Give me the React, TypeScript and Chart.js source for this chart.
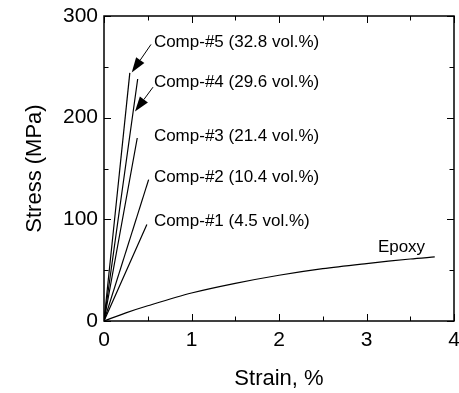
import React, { useEffect, useRef } from "react";
import { Chart, registerables } from "chart.js";

Chart.register(...registerables);

// ---- data ----
const epoxyStrain = [0, 0.25, 0.5, 1, 1.5, 2, 2.5, 3, 3.5, 3.78];
const epoxyStress = [0, 8, 15, 27.5, 37, 45, 51.5, 56.5, 61, 63];

const comp1Strain = [0, 0.49];
const comp1Stress = [0, 95];
const comp2Strain = [0, 0.51];
const comp2Stress = [0, 139];
const comp3Strain = [0, 0.38];
const comp3Stress = [0, 180];
const comp4Strain = [0, 0.385];
const comp4Stress = [0, 238];
const comp5Strain = [0, 0.295];
const comp5Stress = [0, 244];

const xTicks = [0, 1, 2, 3, 4];
const yTicks = [0, 100, 200, 300];

const labelTexts = [
  "Comp-#5 (32.8 vol.%)",
  "Comp-#4 (29.6 vol.%)",
  "Comp-#3 (21.4 vol.%)",
  "Comp-#2 (10.4 vol.%)",
  "Comp-#1 (4.5 vol.%)",
  "Epoxy",
];
// label anchor (left, baseline) in data units
const labelX = [0.57, 0.57, 0.57, 0.57, 0.57, 3.13];
const labelY = [270, 230, 177.5, 136.5, 93.5, 68];

// arrows: start -> tip in data units
const arrowFromX = [0.537, 0.56];
const arrowFromY = [272, 230];
const arrowToX = [0.317, 0.354];
const arrowToY = [244.5, 206];

const FONT = "'Liberation Sans', Arial, Helvetica, sans-serif";

function pts(xs: number[], ys: number[]) {
  return xs.map((x, i) => ({ x, y: ys[i] }));
}

const decorPlugin = {
  id: "decor",
  afterDatasetsDraw(chart: any) {
    const { ctx, chartArea: a, scales } = chart;
    const xs = scales.x;
    const ys = scales.y;
    ctx.save();
    ctx.strokeStyle = "#000";
    ctx.fillStyle = "#000";
    // frame
    ctx.lineWidth = 1.5;
    ctx.strokeRect(a.left, a.top, a.right - a.left, a.bottom - a.top);
    // inward ticks
    ctx.lineWidth = 1;
    const major = 7;
    const minor = 4.5;
    for (let v = 0; v <= 4.0001; v += 0.5) {
      const isMajor = Math.abs(v - Math.round(v)) < 1e-6;
      const len = isMajor ? major : minor;
      const px = Math.round(xs.getPixelForValue(v)) + 0.5;
      ctx.beginPath();
      ctx.moveTo(px, a.bottom);
      ctx.lineTo(px, a.bottom - len);
      ctx.moveTo(px, a.top);
      ctx.lineTo(px, a.top + len);
      ctx.stroke();
    }
    for (let v = 0; v <= 300.001; v += 50) {
      const isMajor = v % 100 === 0;
      const len = isMajor ? major : minor;
      const py = Math.round(ys.getPixelForValue(v)) + 0.5;
      ctx.beginPath();
      ctx.moveTo(a.left, py);
      ctx.lineTo(a.left + len, py);
      ctx.moveTo(a.right, py);
      ctx.lineTo(a.right - len, py);
      ctx.stroke();
    }
    // labels
    ctx.font = `17px ${FONT}`;
    ctx.textAlign = "left";
    ctx.textBaseline = "alphabetic";
    labelTexts.forEach((t, i) => {
      ctx.fillText(t, xs.getPixelForValue(labelX[i]), ys.getPixelForValue(labelY[i]));
    });
    // arrows
    ctx.lineWidth = 1;
    arrowFromX.forEach((_, i) => {
      const x0 = xs.getPixelForValue(arrowFromX[i]);
      const y0 = ys.getPixelForValue(arrowFromY[i]);
      const x1 = xs.getPixelForValue(arrowToX[i]);
      const y1 = ys.getPixelForValue(arrowToY[i]);
      const ang = Math.atan2(y1 - y0, x1 - x0);
      const hl = 15;
      const hw = 5;
      const bx = x1 - hl * Math.cos(ang);
      const by = y1 - hl * Math.sin(ang);
      ctx.beginPath();
      ctx.moveTo(x0, y0);
      ctx.lineTo(bx, by);
      ctx.stroke();
      ctx.beginPath();
      ctx.moveTo(x1, y1);
      ctx.lineTo(bx + hw * Math.sin(ang), by - hw * Math.cos(ang));
      ctx.lineTo(bx - hw * Math.sin(ang), by + hw * Math.cos(ang));
      ctx.closePath();
      ctx.fill();
    });
    ctx.restore();
  },
};

export default function App() {
  const ref = useRef<HTMLCanvasElement | null>(null);
  useEffect(() => {
    if (!ref.current) return;
    const line = (data: any) => ({
      data,
      showLine: true,
      borderColor: "#000",
      borderWidth: 1.2,
      pointRadius: 0,
      fill: false,
      tension: 0.3,
    });
    const chart = new Chart(ref.current, {
      type: "scatter",
      data: {
        datasets: [
          line(pts(epoxyStrain, epoxyStress)),
          line(pts(comp1Strain, comp1Stress)),
          line(pts(comp2Strain, comp2Stress)),
          line(pts(comp3Strain, comp3Stress)),
          line(pts(comp4Strain, comp4Stress)),
          line(pts(comp5Strain, comp5Stress)),
        ],
      },
      options: {
        animation: false,
        responsive: false,
        layout: { padding: { left: 0, right: 5, top: 16, bottom: 0 } },
        plugins: { legend: { display: false }, tooltip: { enabled: false } },
        scales: {
          x: {
            type: "linear",
            min: 0,
            max: 4,
            afterFit: (s: any) => {
              s.height = 72;
              s.paddingLeft = 0;
              s.paddingRight = 0;
            },
            afterBuildTicks: (s: any) => {
              s.ticks = xTicks.map((v) => ({ value: v }));
            },
            grid: { display: false, drawTicks: false },
            border: { display: false },
            ticks: {
              color: "#000",
              padding: 7,
              font: { family: FONT, size: 21 },
              maxRotation: 0,
            },
            title: {
              display: true,
              text: "Strain, %",
              color: "#000",
              font: { family: FONT, size: 22 },
              padding: { top: 0, bottom: 1 },
            },
          },
          y: {
            type: "linear",
            min: 0,
            max: 300,
            afterFit: (s: any) => {
              s.width = 104;
              s.paddingTop = 0;
              s.paddingBottom = 0;
            },
            afterBuildTicks: (s: any) => {
              s.ticks = yTicks.map((v) => ({ value: v }));
            },
            grid: { display: false, drawTicks: false },
            border: { display: false },
            ticks: {
              color: "#000",
              padding: 6,
              font: { family: FONT, size: 21 },
            },
            title: {
              display: true,
              text: "Stress (MPa)",
              color: "#000",
              font: { family: FONT, size: 22 },
              padding: { top: 22, bottom: 0 },
            },
          },
        },
      },
      plugins: [decorPlugin],
    } as any);
    return () => chart.destroy();
  }, []);
  return (
    <canvas
      ref={ref}
      width={459}
      height={393}
      style={{ position: "absolute", left: 0, top: 0, width: 459, height: 393, display: "block", background: "#fff" }}
    />
  );
}
